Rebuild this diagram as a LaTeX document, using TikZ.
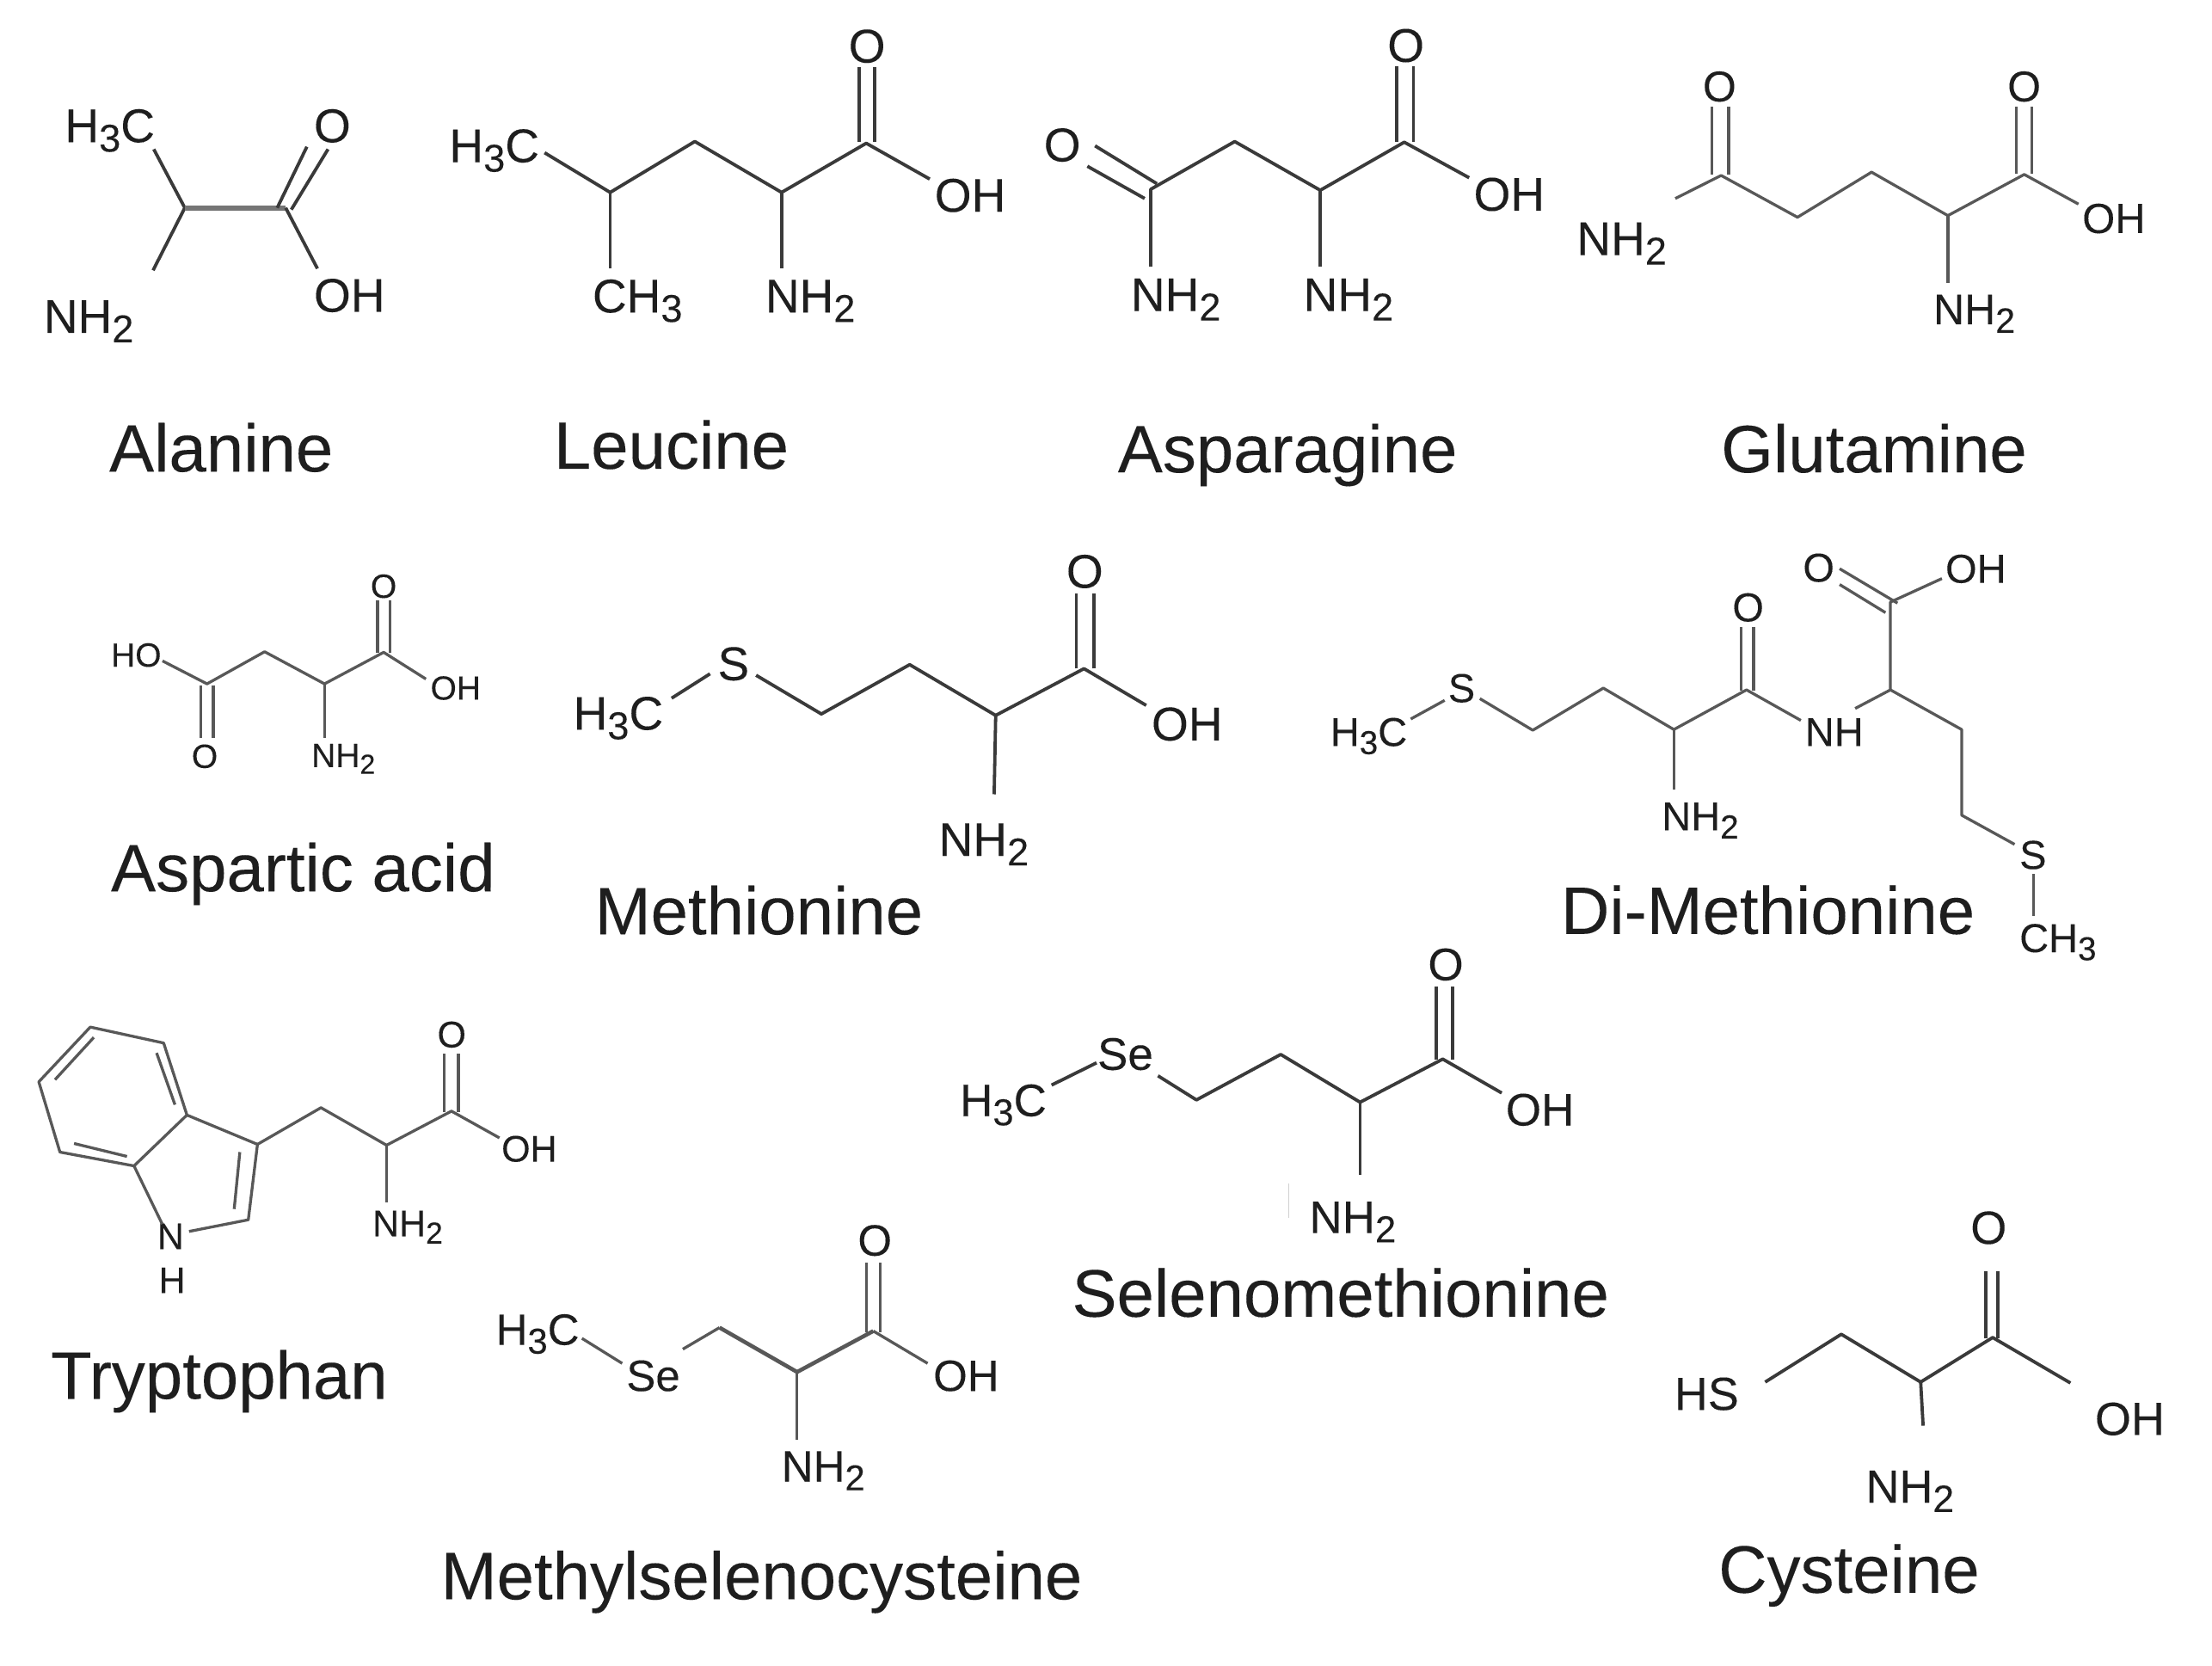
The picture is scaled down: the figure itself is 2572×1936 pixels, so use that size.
\documentclass[tikz,border=0pt]{standalone}
\usepackage{fontspec}
\setmainfont{Liberation Sans}[FakeBold=0.12]
\definecolor{ink}{HTML}{1E1E1E}
\definecolor{bondc}{HTML}{3A3A3A}
\newcommand\subs[1]{\raisebox{-0.2em}{\scalebox{0.82}{#1}}}
\tikzset{
  lbl/.style={font=\fontsize{#1}{#1}\selectfont,anchor=base west,inner sep=0pt,outer sep=0pt,text=ink},
  caption/.style={font=\fontsize{78}{78}\selectfont,anchor=base west,inner sep=0pt,outer sep=0pt,text=ink},
  bond/.style={draw=bondc,line width=3.8pt,line join=round,line cap=butt},
  thinbond/.style={draw=bondc!85,line width=3.3pt,line join=round,line cap=butt},
  region/.style n args={4}{shift={(#1pt,-#2pt)},x=#3pt,y=-#4pt}
}
\begin{document}
\begin{tikzpicture}[x=1pt,y=-1pt]
\useasboundingbox (0,0) rectangle (2572,1936);
\fill[white] (0,0) rectangle (2572,1936);

% ---------- Alanine, Leucine
\begin{scope}[region={0}{0}{.8202}{.4082}]
\node[lbl=55] (aCH) at (92,405) {H\subs{3}C};
\node[lbl=55] (aO) at (445,405) {O};
\node[lbl=55] (aOH) at (445,888) {OH};
\node[lbl=55] (aN) at (62,948) {NH\subs{2}};
\node[caption] (aT) at (155,1343) {Alanine};
\coordinate (a1) at (218,425); \coordinate (a2) at (262,592); \coordinate (a3) at (405,592);
\coordinate (a4) at (450,765); \coordinate (a5) at (217,770);
\coordinate (a6) at (393,592); \coordinate (a7) at (435,418);
\coordinate (a8) at (413,597); \coordinate (a9) at (465,425);
\draw[bond] (a1)--(a2)--(a5);
\draw[bond,line width=6pt,draw=bondc!70] (a2)--(a3);
\draw[bond] (a3)--(a4);
\draw[bond] (a6)--(a7);
\draw[bond] (a8)--(a9);

\node[lbl=55] (bCH) at (637,462) {H\subs{3}C};
\node[lbl=55] (bO) at (1203,178) {O};
\node[lbl=55] (bOH) at (1325,603) {OH};
\node[lbl=55] (bM) at (840,890) {CH\subs{3}};
\node[lbl=55] (bN) at (1085,890) {NH\subs{2}};
\node[caption] (bT) at (785,1335) {Leucine};
\coordinate (b1) at (772,435); \coordinate (b2) at (865,548); \coordinate (b3) at (985,403);
\coordinate (b4) at (1108,548); \coordinate (b5) at (1228,408); \coordinate (b6) at (1318,510);
\coordinate (b7) at (865,765); \coordinate (b8) at (1108,765);
\coordinate (b9) at (1218,405); \coordinate (b10) at (1218,190);
\coordinate (b11) at (1240,405); \coordinate (b12) at (1240,190);
\draw[bond] (b1)--(b2)--(b3)--(b4)--(b5)--(b6);
\draw[bond] (b2)--(b7);
\draw[bond] (b4)--(b8);
\draw[bond] (b9)--(b10);
\draw[bond] (b11)--(b12);
\end{scope}

% ---------- Asparagine, Glutamine
\begin{scope}[region={1180}{0}{.8878}{.3827}]
\node[lbl=55] (cO) at (38,490) {O};
\node[lbl=55] (cP) at (488,188) {O};
\node[lbl=55] (cOH) at (601,640) {OH};
\node[lbl=55] (cN) at (152,945) {NH\subs{2}};
\node[lbl=55] (cM) at (378,945) {NH\subs{2}};
\node[caption] (cT) at (135,1435) {Asparagine};
\coordinate (c1) at (595,540); \coordinate (c2) at (510,432); \coordinate (c3) at (400,578);
\coordinate (c4) at (288,430); \coordinate (c5) at (178,575); \coordinate (c6) at (178,810);
\coordinate (c7) at (400,810);
\coordinate (c8) at (105,443); \coordinate (c9) at (186,558);
\coordinate (c10) at (95,505); \coordinate (c11) at (170,603);
\coordinate (c12) at (500,432); \coordinate (c13) at (500,200);
\coordinate (c14) at (522,432); \coordinate (c15) at (522,200);
\draw[bond] (c1)--(c2)--(c3)--(c4)--(c5)--(c6);
\draw[bond] (c3)--(c7);
\draw[bond] (c8)--(c9);
\draw[bond] (c10)--(c11);
\draw[bond] (c12)--(c13);
\draw[bond] (c14)--(c15);

\node[lbl=55] (dN) at (736,775) {NH\subs{2}};
\node[lbl=50] (dO) at (901,308) {O};
\node[lbl=50] (dP) at (1300,308) {O};
\node[lbl=49] (dOH) at (1398,708) {OH};
\node[lbl=50] (dM) at (1203,985) {NH\subs{2}};
\node[caption] (dT) at (925,1435) {Glutamine};
\coordinate (d1) at (865,603); \coordinate (d2) at (925,533); \coordinate (d3) at (1025,660);
\coordinate (d4) at (1122,523); \coordinate (d5) at (1222,655); \coordinate (d6) at (1322,530);
\coordinate (d7) at (1393,620); \coordinate (d8) at (1222,860);
\coordinate (d9) at (913,530); \coordinate (d10) at (913,325);
\coordinate (d11) at (935,530); \coordinate (d12) at (935,325);
\coordinate (d13) at (1312,527); \coordinate (d14) at (1312,325);
\coordinate (d15) at (1332,527); \coordinate (d16) at (1332,325);
\draw[thinbond] (d1)--(d2)--(d3)--(d4)--(d5)--(d6)--(d7);
\draw[thinbond] (d5)--(d8);
\draw[thinbond] (d9)--(d10);
\draw[thinbond] (d11)--(d12);
\draw[thinbond] (d13)--(d14);
\draw[thinbond] (d15)--(d16);
\end{scope}

% ---------- Aspartic acid, Methionine
\begin{scope}[region={80}{620}{.8929}{.3335}]
\node[lbl=39] (eH) at (55,465) {HO};
\node[lbl=39] (eO) at (393,225) {O};
\node[lbl=39] (eP) at (160,818) {O};
\node[lbl=39] (eOH) at (471,580) {OH};
\node[lbl=39] (eN) at (316,815) {NH\subs{2}};
\node[caption] (eT) at (55,1248) {Aspartic acid};
\coordinate (e1) at (122,445); \coordinate (e2) at (180,525); \coordinate (e3) at (255,413);
\coordinate (e4) at (333,525); \coordinate (e5) at (410,415); \coordinate (e6) at (465,508);
\coordinate (e7) at (333,715);
\coordinate (e8) at (402,418); \coordinate (e9) at (402,235);
\coordinate (e10) at (418,418); \coordinate (e11) at (418,235);
\coordinate (e12) at (172,530); \coordinate (e13) at (172,715);
\coordinate (e14) at (188,530); \coordinate (e15) at (188,715);
\draw[thinbond] (e1)--(e2)--(e3)--(e4)--(e5)--(e6);
\draw[thinbond] (e4)--(e7);
\draw[thinbond] (e8)--(e9);
\draw[thinbond] (e10)--(e11);
\draw[thinbond] (e12)--(e13);
\draw[thinbond] (e14)--(e15);

\node[lbl=55] (fCH) at (657,685) {H\subs{3}C};
\node[lbl=55] (fS) at (845,512) {S};
\node[lbl=55] (fO) at (1299,190) {O};
\node[lbl=55] (fOH) at (1410,722) {OH};
\node[lbl=55] (fN) at (1133,1125) {NH\subs{2}};
\node[caption] (fT) at (685,1398) {Methionine};
\coordinate (f1) at (785,575); \coordinate (f2) at (835,490);
\coordinate (f3) at (895,495); \coordinate (f4) at (980,630); \coordinate (f5) at (1095,458);
\coordinate (f6) at (1207,635); \coordinate (f7) at (1322,472); \coordinate (f8) at (1403,600);
\coordinate (f9) at (1205,910);
\coordinate (f10) at (1312,472); \coordinate (f11) at (1312,210);
\coordinate (f12) at (1335,472); \coordinate (f13) at (1335,210);
\draw[bond] (f1)--(f2);
\draw[bond] (f3)--(f4)--(f5)--(f6)--(f7)--(f8);
\draw[bond] (f6)--(f9);
\draw[bond] (f10)--(f11);
\draw[bond] (f12)--(f13);
\end{scope}

% ---------- Di-Methionine
\begin{scope}[region={1286}{600}{.8202}{.4082}]
\node[lbl=47] (gCH) at (318,655) {H\subs{3}C};
\node[lbl=47] (gS) at (485,530) {S};
\node[lbl=47] (gNH) at (991,655) {NH};
\node[lbl=47] (gN) at (788,895) {NH\subs{2}};
\node[lbl=47] (gO) at (888,300) {O};
\node[lbl=47] (gP) at (988,187) {O};
\node[lbl=47] (gOH) at (1190,190) {OH};
\node[lbl=47] (gT) at (1295,1005) {S};
\node[lbl=47] (gM) at (1295,1242) {CH\subs{3}};
\node[caption] (gC) at (645,1190) {Di-Methionine};
\coordinate (g1) at (432,578); \coordinate (g2) at (480,525);
\coordinate (g3) at (530,520); \coordinate (g4) at (605,610); \coordinate (g5) at (705,490);
\coordinate (g6) at (805,608); \coordinate (g7) at (908,495); \coordinate (g8) at (985,582);
\coordinate (g9) at (805,780);
\coordinate (g10) at (900,497); \coordinate (g11) at (900,315);
\coordinate (g12) at (918,497); \coordinate (g13) at (918,315);
\coordinate (g14) at (1062,548); \coordinate (g15) at (1112,495); \coordinate (g16) at (1112,245);
\coordinate (g17) at (1040,150); \coordinate (g18) at (1122,248);
\coordinate (g19) at (1040,195); \coordinate (g20) at (1105,275);
\coordinate (g21) at (1185,178);
\coordinate (g22) at (1213,608); \coordinate (g23) at (1213,852); \coordinate (g24) at (1288,935);
\coordinate (g25) at (1315,1020); \coordinate (g26) at (1315,1140);
\draw[thinbond] (g1)--(g2);
\draw[thinbond] (g3)--(g4)--(g5)--(g6)--(g7)--(g8);
\draw[thinbond] (g6)--(g9);
\draw[thinbond] (g10)--(g11);
\draw[thinbond] (g12)--(g13);
\draw[thinbond] (g14)--(g15)--(g16)--(g21);
\draw[thinbond] (g17)--(g18);
\draw[thinbond] (g19)--(g20);
\draw[thinbond] (g15)--(g22)--(g23)--(g24);
\draw[thinbond] (g25)--(g26);
\end{scope}

% ---------- Tryptophan, Methylselenocysteine
\begin{scope}[region={0}{1150}{.8202}{.5013}]
\node[lbl=43] (hO) at (620,135) {O};
\node[lbl=43] (hOH) at (711,400) {OH};
\node[lbl=43] (hN) at (528,573) {NH\subs{2}};
\node[lbl=43] (hR) at (223,603) {N};
\node[lbl=43] (hH) at (225,705) {H};
\node[caption] (hT) at (72,950) {Tryptophan};
\coordinate (r1) at (128,88); \coordinate (r2) at (232,125); \coordinate (r3) at (265,292);
\coordinate (r4) at (190,410); \coordinate (r5) at (85,378); \coordinate (r6) at (55,215);
\coordinate (r7) at (133,112); \coordinate (r8) at (78,210);
\coordinate (r9) at (222,148); \coordinate (r10) at (248,268);
\coordinate (r11) at (180,388); \coordinate (r12) at (105,358);
\coordinate (r13) at (365,360); \coordinate (r14) at (352,535); \coordinate (r15) at (268,562);
\coordinate (r16) at (230,545);
\coordinate (r17) at (340,378); \coordinate (r18) at (332,510);
\coordinate (h1) at (455,275); \coordinate (h2) at (548,362); \coordinate (h3) at (640,283);
\coordinate (h4) at (708,345); \coordinate (h5) at (548,495);
\coordinate (h6) at (630,285); \coordinate (h7) at (630,150);
\coordinate (h8) at (650,285); \coordinate (h9) at (650,150);
\draw[thinbond] (r1)--(r2)--(r3)--(r4)--(r5)--(r6)--cycle;
\draw[thinbond] (r7)--(r8);
\draw[thinbond] (r9)--(r10);
\draw[thinbond] (r11)--(r12);
\draw[thinbond] (r3)--(r13)--(r14)--(r15);
\draw[thinbond] (r4)--(r16);
\draw[thinbond] (r17)--(r18);
\draw[thinbond] (r13)--(h1)--(h2)--(h3)--(h4);
\draw[thinbond] (h2)--(h5);
\draw[thinbond] (h6)--(h7);
\draw[thinbond] (h8)--(h9);

\node[lbl=51] (iCH) at (703,825) {H\subs{3}C};
\node[lbl=51] (iSe) at (888,932) {Se};
\node[lbl=51] (iO) at (1216,618) {O};
\node[lbl=51] (iOH) at (1323,932) {OH};
\node[lbl=51] (iN) at (1108,1142) {NH\subs{2}};
\node[caption] (iT) at (625,1415) {Methylselenocysteine};
\coordinate (i1) at (825,810); \coordinate (i2) at (882,868);
\coordinate (i3) at (968,835); \coordinate (i4) at (1020,785); \coordinate (i5) at (1130,888);
\coordinate (i6) at (1238,793); \coordinate (i7) at (1315,868); \coordinate (i8) at (1130,1045);
\coordinate (i9) at (1228,795); \coordinate (i10) at (1228,635);
\coordinate (i11) at (1248,795); \coordinate (i12) at (1248,635);
\draw[thinbond] (i1)--(i2);
\draw[thinbond] (i3)--(i4);
\draw[thinbond,line width=4.6pt] (i4)--(i5)--(i6);
\draw[thinbond] (i6)--(i7);
\draw[thinbond] (i5)--(i8);
\draw[thinbond] (i9)--(i10);
\draw[thinbond] (i11)--(i12);
\end{scope}

% ---------- Selenomethionine, Cysteine
\begin{scope}[region={1080}{1090}{.9515}{.5395}]
\node[lbl=53] (jCH) at (38,385) {H\subs{3}C};
\node[lbl=53] (jSe) at (206,285) {Se};
\node[lbl=53] (jO) at (610,92) {O};
\node[lbl=53] (jOH) at (705,405) {OH};
\node[lbl=53] (jN) at (465,637) {NH\subs{2}};
\node[caption] (jT) at (175,817) {Selenomethionine};
\coordinate (j1) at (150,318); \coordinate (j2) at (205,270);
\coordinate (j3) at (280,298); \coordinate (j4) at (327,350); \coordinate (j5) at (430,252);
\coordinate (j6) at (527,355); \coordinate (j7) at (628,262); \coordinate (j8) at (700,335);
\coordinate (j9) at (527,512);
\coordinate (j10) at (620,264); \coordinate (j11) at (620,105);
\coordinate (j12) at (640,264); \coordinate (j13) at (640,105);
\coordinate (j14) at (440,530); \coordinate (j15) at (440,605);
\draw[bond] (j1)--(j2);
\draw[bond] (j3)--(j4)--(j5)--(j6)--(j7)--(j8);
\draw[bond] (j6)--(j9);
\draw[bond] (j10)--(j11);
\draw[bond] (j12)--(j13);
\draw[draw=black!18,line width=1.5pt] (j14)--(j15);

\node[lbl=54] (kHS) at (911,1018) {HS};
\node[lbl=54] (kO) at (1273,660) {O};
\node[lbl=54] (kOH) at (1425,1072) {OH};
\node[lbl=54] (kN) at (1145,1218) {NH\subs{2}};
\node[caption] (kT) at (965,1412) {Cysteine};
\coordinate (k1) at (1022,958); \coordinate (k2) at (1115,855); \coordinate (k3) at (1212,958);
\coordinate (k4) at (1300,862); \coordinate (k5) at (1395,960); \coordinate (k6) at (1215,1052);
\coordinate (k7) at (1292,864); \coordinate (k8) at (1292,720);
\coordinate (k9) at (1306,864); \coordinate (k10) at (1306,720);
\draw[bond] (k1)--(k2)--(k3)--(k4)--(k5);
\draw[bond] (k3)--(k6);
\draw[bond] (k7)--(k8);
\draw[bond] (k9)--(k10);
\end{scope}
\end{tikzpicture}
\end{document}
